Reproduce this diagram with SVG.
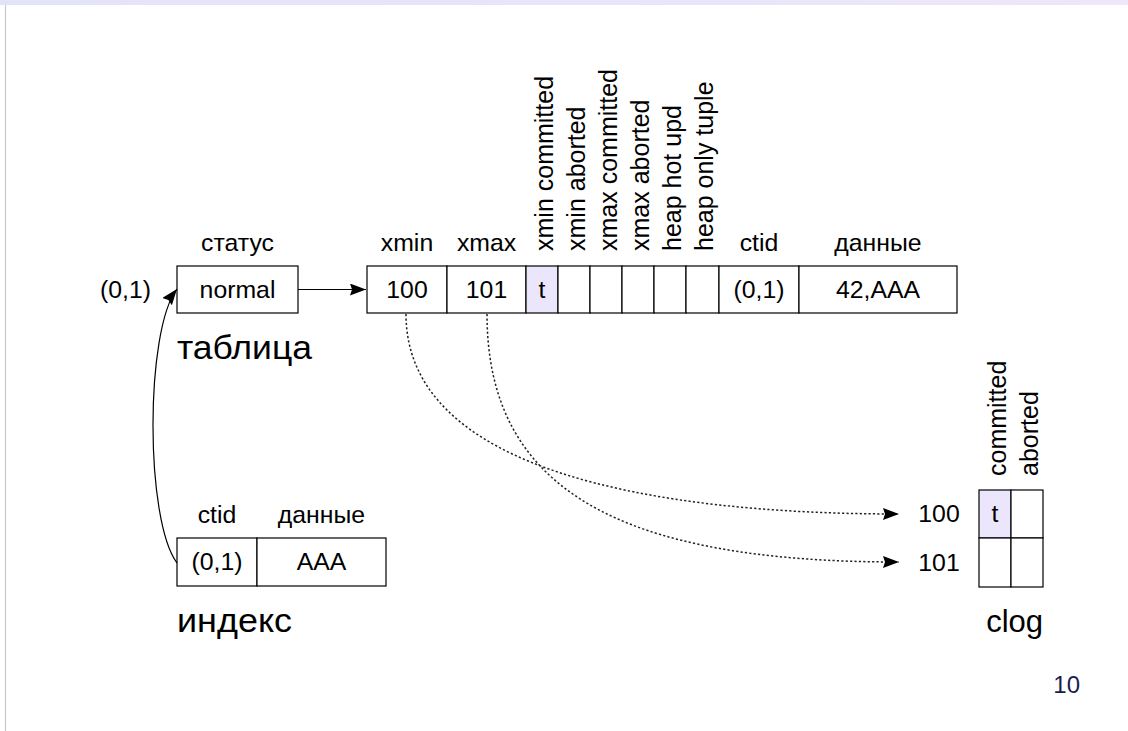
<svg xmlns="http://www.w3.org/2000/svg" width="1128" height="731" viewBox="0 0 1128 731">
<defs>
<linearGradient id="band" x1="0" y1="0" x2="1" y2="0">
<stop offset="0" stop-color="#e3e3f8"/>
<stop offset="1" stop-color="#eee6fb"/>
</linearGradient>
<marker id="ah" markerUnits="userSpaceOnUse" markerWidth="18" markerHeight="14" viewBox="0 0 18 14" refX="16" refY="6" orient="auto">
<path d="M0,0 L16,6 L0,12 L2,6 z" fill="#000"/>
</marker>
<style>
text{font-family:"Liberation Sans",Arial,sans-serif;fill:#000}
.t{font-size:24.8px;text-anchor:middle}
.big{font-size:33px}
.rot{font-size:25px}
.cell{fill:#fff;stroke:#000;stroke-width:1.2}
.hl{fill:#ece6fc;stroke:#000;stroke-width:1.2}
.ln{fill:none;stroke:#000;stroke-width:1.2}
.dot{fill:none;stroke:#222;stroke-width:1.5;stroke-dasharray:2.2 2.2}
</style>
</defs>
<rect x="0" y="0" width="1128" height="731" fill="#fff"/>
<rect x="0" y="0" width="1128" height="5" fill="url(#band)"/>
<line x1="5.5" y1="5" x2="5.5" y2="731" stroke="#c8c8c8" stroke-width="1.2"/>

<g id="table-status">
<text class="t" x="237.5" y="251">статус</text>
<text class="t" x="151" y="298" style="text-anchor:end">(0,1)</text>
<rect class="cell" x="177" y="266" width="121" height="47"/>
<text class="t" x="237.5" y="298">normal</text>
<text class="big" x="177" y="359" textLength="135" lengthAdjust="spacingAndGlyphs">таблица</text>
</g>

<g id="tuple">
<text class="t" x="407" y="251">xmin</text>
<text class="t" x="486.5" y="251">xmax</text>
<text class="t" x="759" y="251">ctid</text>
<text class="t" x="878" y="251">данные</text>
<text class="rot" transform="translate(553,251) rotate(-90)">xmin committed</text>
<text class="rot" transform="translate(585,251) rotate(-90)">xmin aborted</text>
<text class="rot" transform="translate(617,251) rotate(-90)">xmax committed</text>
<text class="rot" transform="translate(649,251) rotate(-90)">xmax aborted</text>
<text class="rot" transform="translate(681,251) rotate(-90)">heap hot upd</text>
<text class="rot" transform="translate(713,251) rotate(-90)">heap only tuple</text>
<rect class="cell" x="367" y="266" width="80" height="47"/>
<rect class="cell" x="447" y="266" width="79" height="47"/>
<rect class="hl" x="526" y="266" width="32" height="47"/>
<rect class="cell" x="558" y="266" width="32" height="47"/>
<rect class="cell" x="590" y="266" width="32" height="47"/>
<rect class="cell" x="622" y="266" width="32" height="47"/>
<rect class="cell" x="654" y="266" width="32" height="47"/>
<rect class="cell" x="686" y="266" width="33" height="47"/>
<rect class="cell" x="719" y="266" width="80" height="47"/>
<rect class="cell" x="799" y="266" width="158" height="47"/>
<text class="t" x="407" y="298">100</text>
<text class="t" x="486.5" y="298">101</text>
<text class="t" x="542" y="298">t</text>
<text class="t" x="759" y="298">(0,1)</text>
<text class="t" x="878" y="298">42,AAA</text>
</g>

<g id="index">
<text class="t" x="217" y="523">ctid</text>
<text class="t" x="321.5" y="523">данные</text>
<rect class="cell" x="177" y="538" width="80" height="48"/>
<rect class="cell" x="257" y="538" width="129" height="48"/>
<text class="t" x="217" y="570">(0,1)</text>
<text class="t" x="321.5" y="570">AAA</text>
<text class="big" x="177" y="632" textLength="115" lengthAdjust="spacingAndGlyphs">индекс</text>
</g>

<g id="clog">
<text class="rot" transform="translate(1006,476) rotate(-90)">committed</text>
<text class="rot" transform="translate(1038,476) rotate(-90)">aborted</text>
<text class="t" x="939" y="522">100</text>
<text class="t" x="939" y="571">101</text>
<rect class="hl" x="979" y="490" width="32" height="48"/>
<rect class="cell" x="1011" y="490" width="32" height="48"/>
<rect class="cell" x="979" y="538" width="32" height="49"/>
<rect class="cell" x="1011" y="538" width="32" height="49"/>
<text class="t" x="995" y="522">t</text>
<text x="1043" y="632" style="font-size:31px;text-anchor:end">clog</text>
</g>

<g id="connectors">
<line class="ln" x1="298" y1="289.5" x2="366" y2="289.5" marker-end="url(#ah)"/>
<path class="ln" d="M177,563 C145,520 145,330 177,289" marker-end="url(#ah)"/>
<path class="dot" d="M406,314 C406,470 650,514 899,514" marker-end="url(#ah)"/>
<path class="dot" d="M487,314 C487,490 620,562 899,562" marker-end="url(#ah)"/>
</g>

<text x="1080" y="693" style="font-size:24px;text-anchor:end;fill:#1c1c4e">10</text>
</svg>
